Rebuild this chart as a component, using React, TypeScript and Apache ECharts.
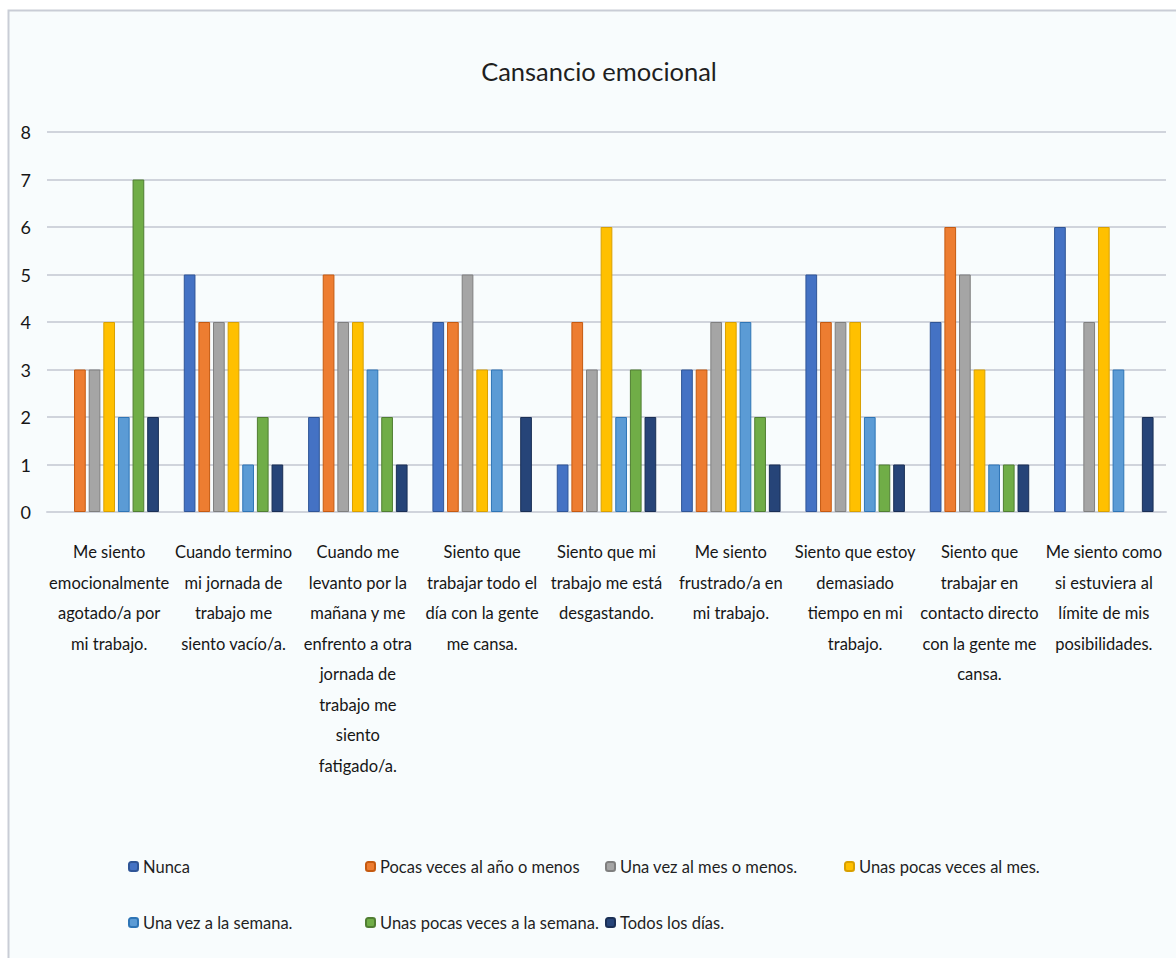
import React, { useEffect, useRef } from "react";
import * as echarts from "echarts";

const FONT = "Lato, 'Liberation Sans', sans-serif";

const title = "Cansancio emocional";

const categories = [
  "Me siento\nemocionalmente\nagotado/a por\nmi trabajo.",
  "Cuando termino\nmi jornada de\ntrabajo me\nsiento vacío/a.",
  "Cuando me\nlevanto por la\nmañana y me\nenfrento a otra\njornada de\ntrabajo me\nsiento\nfatigado/a.",
  "Siento que\ntrabajar todo el\ndía con la gente\nme cansa.",
  "Siento que mi\ntrabajo me está\ndesgastando.",
  "Me siento\nfrustrado/a en\nmi trabajo.",
  "Siento que estoy\ndemasiado\ntiempo en mi\ntrabajo.",
  "Siento que\ntrabajar en\ncontacto directo\ncon la gente me\ncansa.",
  "Me siento como\nsi estuviera al\nlímite de mis\nposibilidades.",
];

const seriesNames = [
  "Nunca",
  "Pocas veces al año o menos",
  "Una vez al mes o menos.",
  "Unas pocas veces al mes.",
  "Una vez a la semana.",
  "Unas pocas veces a la semana.",
  "Todos los días.",
];

const nunca = [0, 5, 2, 4, 1, 3, 5, 4, 6];
const pocasVecesAno = [3, 4, 5, 4, 4, 3, 4, 6, 0];
const unaVezMes = [3, 4, 4, 5, 3, 4, 4, 5, 4];
const unasPocasMes = [4, 4, 4, 3, 6, 4, 4, 3, 6];
const unaVezSemana = [2, 1, 3, 3, 2, 4, 2, 1, 3];
const unasPocasSemana = [7, 2, 2, 0, 3, 2, 1, 1, 0];
const todosLosDias = [2, 1, 1, 2, 2, 1, 1, 1, 2];

const seriesValues = [nunca, pocasVecesAno, unaVezMes, unasPocasMes, unaVezSemana, unasPocasSemana, todosLosDias];

const yTicks = [0, 1, 2, 3, 4, 5, 6, 7, 8];

const colors = ["#4472c4", "#ed7d31", "#a5a5a5", "#ffc000", "#5b9bd5", "#70ad47", "#264478"];
const borders = ["#2f5597", "#c55a11", "#7f7f7f", "#d9a000", "#2e75b6", "#507e32", "#1a2f55"];

const legendPos = [
  [128, 858],
  [365, 858],
  [605, 858],
  [844, 858],
  [128, 914],
  [365, 914],
  [605, 914],
];

export default function App() {
  const ref = useRef<HTMLDivElement>(null);
  useEffect(() => {
    if (!ref.current) return;
    const chart = echarts.init(ref.current, null, { renderer: "svg" });
    const option: any = {
      animation: false,
      backgroundColor: "#ffffff",
      textStyle: { fontFamily: FONT },
      graphic: [
        {
          type: "rect",
          z: -10,
          shape: { x: 8.5, y: 10.5, width: 1200, height: 1000 },
          style: { fill: "#f8fcfd", stroke: "#c9cdd6", lineWidth: 2 },
        },
      ],
      title: {
        text: title,
        left: 594,
        top: 53,
        textAlign: "center",
        textStyle: { fontFamily: FONT, fontSize: 25.5, fontWeight: "normal", color: "#1f1f1f" },
      },
      legend: seriesNames.map((n, i) => ({
        data: [n],
        left: legendPos[i][0],
        top: legendPos[i][1],
        itemWidth: 9,
        itemHeight: 9,
        itemGap: 0,
        padding: 0,
        textStyle: { fontFamily: FONT, fontSize: 16.5, color: "#1f1f1f" },
      })),
      grid: { left: 47, right: 10, top: 132, bottom: 446, containLabel: false },
      xAxis: {
        type: "category",
        data: categories,
        axisTick: { show: false },
        axisLine: { show: true, lineStyle: { color: "#d0d4dc", width: 2 } },
        axisLabel: {
          interval: 0,
          margin: 25,
          fontFamily: FONT,
          fontSize: 16.5,
          lineHeight: 30.5,
          color: "#161616",
          verticalAlign: "top",
        },
      },
      yAxis: {
        type: "value",
        min: yTicks[0],
        max: yTicks[yTicks.length - 1],
        interval: 1,
        axisLine: { show: false },
        axisTick: { show: false },
        splitLine: { lineStyle: { color: "#d0d4dc", width: 2 } },
        axisLabel: { margin: 16, fontFamily: FONT, fontSize: 18, color: "#161616" },
      },
      series: seriesNames.map((n, i) => ({
        name: n,
        type: "bar",
        data: seriesValues[i].map((v) => (v === 0 ? { value: v, itemStyle: { borderWidth: 0 } } : v)),
        barGap: "25%",
        barCategoryGap: "20%",
        itemStyle: { color: colors[i], borderColor: borders[i], borderWidth: 1 },
      })),
    };
    chart.setOption(option);
    return () => chart.dispose();
  }, []);
  return (
    <div
      ref={ref}
      style={{ position: "absolute", left: 0, top: 0, width: 1176, height: 958 }}
    />
  );
}
